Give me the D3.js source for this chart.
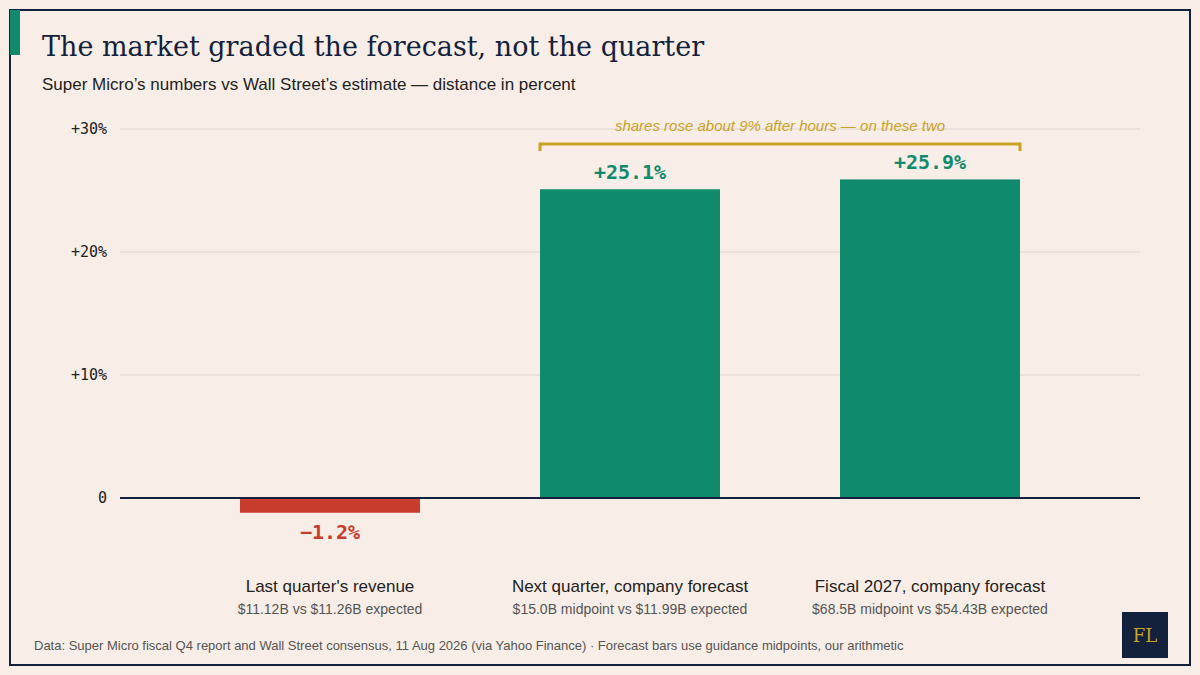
<!DOCTYPE html><html><head><meta charset="utf-8">
<script src="https://cdn.jsdelivr.net/npm/d3@7/dist/d3.min.js"></script>
<style>body{margin:0;background:#f9eee7}svg{display:block}</style></head><body>
<svg id="c" width="1200" height="675"></svg>
<script>
const categories=["Last quarter's revenue","Next quarter, company forecast","Fiscal 2027, company forecast"];
const subLabels=["$11.12B vs $11.26B expected","$15.0B midpoint vs $11.99B expected","$68.5B midpoint vs $54.43B expected"];
const values=[-1.2,25.1,25.9];
const valueLabels=["\u22121.2%","+25.1%","+25.9%"];
const tickValues=[0,10,20,30];
const tickLabels=["0","+10%","+20%","+30%"];
const svg=d3.select("#c");
const bg="#f9eee7",navy="#14213d",green="#108a6c",red="#c83c2e",gold="#c9a227";
svg.append("rect").attr("x",10).attr("y",10).attr("width",1180).attr("height",655).attr("fill",bg).attr("stroke",navy).attr("stroke-width",2);
svg.append("rect").attr("x",10).attr("y",10).attr("width",10).attr("height",45).attr("fill",green);
svg.append("text").attr("x",42).attr("y",56).attr("font-family","DejaVu Serif, Georgia, serif").attr("font-size",27).attr("fill",navy).text("The market graded the forecast, not the quarter");
svg.append("text").attr("x",42).attr("y",90).attr("font-family","Liberation Sans, Arial, sans-serif").attr("font-size",17).attr("fill","#222").text("Super Micro\u2019s numbers vs Wall Street\u2019s estimate \u2014 distance in percent");
const y=d3.scaleLinear().domain([0,30]).range([498,129]);
const x=d3.scaleBand().domain(categories).range([180,1080]).paddingInner(0.4).paddingOuter(0.2);
const g=svg.append("g");
tickValues.forEach((t,i)=>{
 if(t!==0) g.append("line").attr("x1",120).attr("x2",1140).attr("y1",y(t)).attr("y2",y(t)).attr("stroke","#ddd5cd");
 g.append("text").attr("x",107).attr("y",y(t)+5).attr("text-anchor","end").attr("font-family","DejaVu Sans Mono, monospace").attr("font-size",15).attr("fill","#222").text(tickLabels[i]);
});
categories.forEach((c,i)=>{
 const v=values[i],col=v<0?red:green;
 g.append("rect").attr("x",x(c)).attr("width",x.bandwidth()).attr("y",y(Math.max(0,v))).attr("height",Math.abs(y(v)-y(0))).attr("fill",col);
 const cx=x(c)+x.bandwidth()/2;
 g.append("text").attr("x",cx).attr("y",v<0?y(v)+26:y(v)-10).attr("text-anchor","middle").attr("font-family","DejaVu Sans Mono, monospace").attr("font-weight","bold").attr("font-size",20).attr("fill",col).text(valueLabels[i]);
 g.append("text").attr("x",cx).attr("y",592).attr("text-anchor","middle").attr("font-family","Liberation Sans, Arial, sans-serif").attr("font-size",17).attr("fill","#222").text(c);
 g.append("text").attr("x",cx).attr("y",614).attr("text-anchor","middle").attr("font-family","Liberation Sans, Arial, sans-serif").attr("font-size",14).attr("fill","#555").text(subLabels[i]);
});
g.append("line").attr("x1",120).attr("x2",1140).attr("y1",y(0)).attr("y2",y(0)).attr("stroke",navy).attr("stroke-width",2);
const bx1=x(categories[1]),bx2=x(categories[2])+x.bandwidth();
g.append("path").attr("d",`M${bx1},${151}V${144}H${bx2}V${151}`).attr("fill","none").attr("stroke",gold).attr("stroke-width",3);
g.append("text").attr("x",(bx1+bx2)/2).attr("y",131).attr("text-anchor","middle").attr("font-family","Liberation Sans, Arial, sans-serif").attr("font-style","italic").attr("font-size",15).attr("fill",gold).text("shares rose about 9% after hours \u2014 on these two");
svg.append("text").attr("x",34).attr("y",650).attr("font-family","Liberation Sans, Arial, sans-serif").attr("font-size",13).attr("fill","#555").text("Data: Super Micro fiscal Q4 report and Wall Street consensus, 11 Aug 2026 (via Yahoo Finance) \u00b7 Forecast bars use guidance midpoints, our arithmetic");
svg.append("rect").attr("x",1122).attr("y",612).attr("width",46).attr("height",46).attr("fill",navy);
svg.append("text").attr("x",1145).attr("y",642).attr("text-anchor","middle").attr("font-family","DejaVu Serif, serif").attr("font-size",18).attr("fill",gold).text("FL");
</script></body></html>
